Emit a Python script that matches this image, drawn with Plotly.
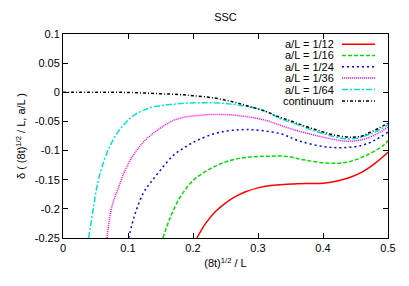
import plotly.graph_objects as go

# ---- data ----
x_cont = [0, 0.05, 0.1, 0.15, 0.18, 0.2, 0.2315, 0.26, 0.283, 0.31, 0.334, 0.349, 0.362, 0.38, 0.40, 0.42, 0.4415, 0.46, 0.472, 0.485, 0.5]
y_cont = [0, 0, -0.0003, -0.0025, -0.004, -0.006, -0.0096, -0.016, -0.023, -0.032, -0.043, -0.0485, -0.054, -0.061, -0.068, -0.074, -0.077, -0.075, -0.069, -0.062, -0.053]

x_64 = [0.0394, 0.047, 0.052, 0.060, 0.0727, 0.088, 0.1085, 0.134, 0.165, 0.206, 0.257, 0.308, 0.334, 0.36, 0.40, 0.44, 0.47, 0.5]
y_64 = [-0.25, -0.197, -0.163, -0.128, -0.091, -0.063, -0.040, -0.0267, -0.021, -0.018, -0.020, -0.031, -0.045, -0.055, -0.071, -0.080, -0.073, -0.056]

x_36 = [0.0676, 0.075, 0.0855, 0.098, 0.119, 0.1445, 0.175, 0.206, 0.237, 0.27, 0.308, 0.349, 0.40, 0.44, 0.47, 0.5]
y_36 = [-0.25, -0.197, -0.163, -0.128, -0.091, -0.0656, -0.046, -0.040, -0.038, -0.040, -0.047, -0.062, -0.077, -0.084, -0.078, -0.060]

x_24 = [0.101, 0.111, 0.124, 0.134, 0.1496, 0.170, 0.188, 0.206, 0.24, 0.283, 0.334, 0.362, 0.40, 0.43, 0.46, 0.48, 0.5]
y_24 = [-0.25, -0.208, -0.172, -0.156, -0.134, -0.108, -0.094, -0.0827, -0.069, -0.064, -0.071, -0.083, -0.093, -0.095, -0.091, -0.082, -0.068]

x_16 = [0.1537, 0.165, 0.180, 0.2007, 0.2264, 0.252, 0.283, 0.316, 0.344, 0.370, 0.406, 0.4365, 0.467, 0.493, 0.5]
y_16 = [-0.25, -0.215, -0.1805, -0.1507, -0.1313, -0.1188, -0.1115, -0.1097, -0.110, -0.1158, -0.1215, -0.120, -0.108, -0.091, -0.0827]

x_12 = [0.206, 0.22, 0.235, 0.25, 0.265, 0.28, 0.30, 0.32, 0.34, 0.36, 0.38, 0.40, 0.42, 0.44, 0.46, 0.48, 0.5]
y_12 = [-0.25, -0.224, -0.204, -0.190, -0.179, -0.171, -0.164, -0.160, -0.158, -0.157, -0.1565, -0.156, -0.1525, -0.1465, -0.137, -0.122, -0.103]

labels = ["a/L = 1/12", "a/L = 1/16", "a/L = 1/24", "a/L = 1/36", "a/L = 1/64", "continuum"]
xs = [x_12, x_16, x_24, x_36, x_64, x_cont]
ys = [y_12, y_16, y_24, y_36, y_64, y_cont]
colors = ["#ff0000", "#00e000", "#0000ff", "#ff00ff", "#00e0e0", "#000000"]
dashes = ["solid", "4px,2px", "2px,3px", "1px,1px", "6px,2px,2px,2px", "3px,2px,1px,2px"]

x_ticks = [0, 0.1, 0.2, 0.3, 0.4, 0.5]
y_ticks = [0.1, 0.05, 0, -0.05, -0.1, -0.15, -0.2, -0.25]

FONT = "Liberation Sans, Arial, sans-serif"

# page body has an 8px default margin -> figure is drawn 8px in from the top-left
OFF = 8
W, H = 409 - OFF, 286 - OFF
L, R, T, B = 63, 388, 34, 238          # target plot-area edges in window pixels

fig = go.Figure()
for xv, yv, c, d, lab in zip(xs, ys, colors, dashes, labels):
    fig.add_trace(go.Scatter(x=xv, y=yv, mode="lines", name=lab,
                             line=dict(color=c, width=1.5, dash=d, shape="spline", smoothing=1.0),
                             showlegend=False))

# manual gnuplot-style legend (text right, sample line right of text)
row_py = [44.3, 55.5, 66.8, 78.0, 89.5, 101.0]
for lab, c, d, py in zip(labels, colors, dashes, row_py):
    yp = (B - py) / (B - T)
    fig.add_annotation(xref="paper", yref="paper", x=(336 - L) / (R - L), y=yp,
                       text=lab, showarrow=False, xanchor="right", yanchor="middle",
                       font=dict(family=FONT, size=11, color="#000000"))
    fig.add_shape(type="line", xref="paper", yref="paper",
                  x0=(342 - L) / (R - L), x1=(375 - L) / (R - L), y0=yp, y1=yp,
                  line=dict(color=c, width=1.5, dash=d))

fig.update_layout(
    width=W, height=H,
    margin=dict(l=L - OFF, r=409 - R, t=T - OFF, b=286 - B, autoexpand=False),
    paper_bgcolor="white", plot_bgcolor="white",
    font=dict(family=FONT, size=11, color="#000000"),
    title=dict(text="SSC", x=0.5, xref="paper", y=1 - (17 - OFF) / H, yanchor="middle",
               font=dict(family=FONT, size=11)),
    xaxis=dict(range=[0, 0.5], tickvals=x_ticks, ticktext=[f"{v:g}" for v in x_ticks],
               ticks="inside", ticklen=5, tickcolor="#000", showline=True, linecolor="#000",
               linewidth=1, mirror="ticks", showgrid=False, zeroline=False, automargin=False,
               title=dict(text="(8t)<sup>1/2</sup> / L", standoff=6, font=dict(size=11))),
    yaxis=dict(range=[-0.25, 0.1], tickvals=y_ticks, ticktext=[f"{v:g}" for v in y_ticks],
               ticks="inside", ticklen=5, tickcolor="#000", showline=True, linecolor="#000",
               linewidth=1, mirror="ticks", showgrid=False, zeroline=False, automargin=False,
               title=dict(text="δ ( (8t)<sup>1/2</sup> / L, a/L )", standoff=6, font=dict(size=11))),
)

fig.write_html("out.html")
